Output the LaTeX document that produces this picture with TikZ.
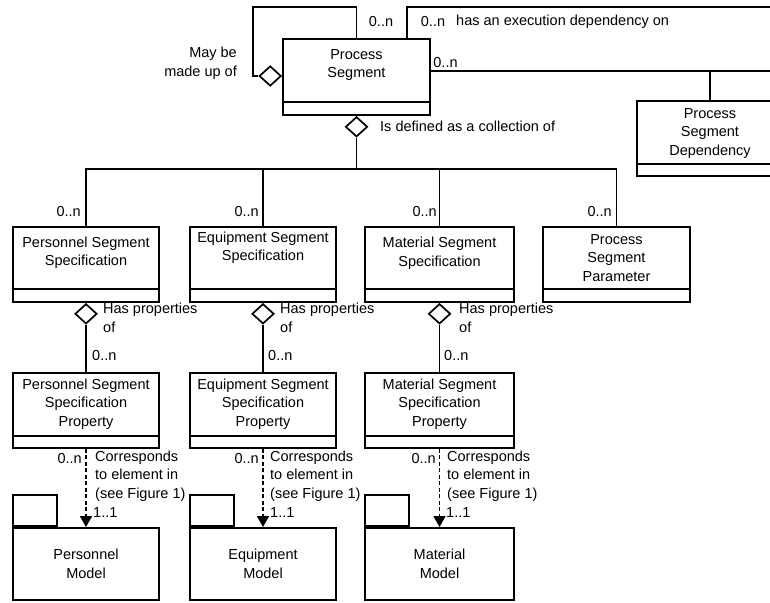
\documentclass[tikz,border=0pt]{standalone}
\usepackage{fontspec}
\setmainfont{Liberation Sans}
\usetikzlibrary{arrows.meta,shapes.geometric}

\begin{document}
\begin{tikzpicture}[x=1pt,y=-1pt,
  every node/.style={font=\fontsize{14.5}{18.5}\selectfont, inner sep=0pt},
  cls/.style={draw, line width=1.9pt, rectangle, align=center},
  txt/.style={align=center},
  ltxt/.style={align=left},
  rtxt/.style={align=right},
  agg/.style={draw, line width=1.7pt, diamond, fill=white, minimum width=22pt, minimum height=20pt, inner sep=0pt},
  link/.style={line width=1.9pt},
  dep/.style={line width=1.7pt, dash pattern=on 4pt off 2.5pt, -{Triangle[width=12pt,length=11pt]}},
]
\clip (0,0) rectangle (770,602);

% ---- Process Segment ----
\node[cls, minimum width=147pt, minimum height=76pt] (ps) at (356.5,77) {};
\draw[link] ([yshift=14pt]ps.south west) -- ([yshift=14pt]ps.south east);
\node[txt] (ps-name) at (356.5,65) {Process\\Segment};

% ---- Process Segment Dependency ----
\node[cls, minimum width=146pt, minimum height=75pt] (dep) at (710,138.5) {};
\draw[link] ([yshift=13pt]dep.south west) -- ([yshift=13pt]dep.south east);
\node[txt] (dep-name) at (710,133.5) {Process\\Segment\\Dependency};

% ---- second row ----
\node[cls, minimum width=146pt, minimum height=75pt] (pss) at (86,264.5) {};
\node[cls, minimum width=146pt, minimum height=75pt] (ess) at (263,264.5) {};
\node[cls, minimum width=149pt, minimum height=75pt] (mss) at (439.5,264.5) {};
\node[cls, minimum width=147pt, minimum height=75pt] (psp) at (616.5,264.5) {};
\foreach \n in {pss,ess,mss,psp}
  \draw[link] ([yshift=14pt]\n.south west) -- ([yshift=14pt]\n.south east);
\node[txt] (pss-name) at (86,252.5) {Personnel Segment\\Specification};
\node[txt] (ess-name) at (263,247.5) {Equipment Segment\\Specification};
\node[txt] (mss-name) at (439.5,253) {Material Segment\\Specification};
\node[txt] (psp-name) at (616.5,258) {Process\\Segment\\Parameter};

% ---- third row ----
\node[cls, minimum width=146pt, minimum height=75pt] (pssp) at (86,410.5) {};
\node[cls, minimum width=146pt, minimum height=75pt] (essp) at (263,410.5) {};
\node[cls, minimum width=149pt, minimum height=75pt] (mssp) at (439.5,410.5) {};
\foreach \n in {pssp,essp,mssp}
  \draw[link] ([yshift=13pt]\n.south west) -- ([yshift=13pt]\n.south east);
\node[txt] (pssp-name) at (86,404) {Personnel Segment\\Specification\\Property};
\node[txt] (essp-name) at (263,404) {Equipment Segment\\Specification\\Property};
\node[txt] (mssp-name) at (439.5,404) {Material Segment\\Specification\\Property};

% ---- model packages ----
\node[cls, minimum width=146pt, minimum height=72pt] (pm) at (86,564) {Personnel\\Model};
\node[cls, minimum width=146pt, minimum height=72pt] (em) at (263,564) {Equipment\\Model};
\node[cls, minimum width=149pt, minimum height=72pt] (mm) at (439.5,564) {Material\\Model};
\foreach \n in {pm,em,mm}
  \node[cls, anchor=south west, minimum width=44pt, minimum height=31pt] (\n-tab) at (\n.north west) {};

% ---- self aggregation ----
\node[agg, anchor=east] (selfagg) at (ps.west |- 0,76) {};
\coordinate (selftop) at (253,7);
\draw[link] (ps.north) |- (selftop) |- (selfagg.west);
\node (self-m) at (381,22) {0..n};
\node[rtxt, anchor=east] (self-l) at (237,63.5) {May be\\made up of};

% ---- execution dependency ----
\coordinate (exectop) at (407,39);
\coordinate (execR) at (775,7);
\draw[link] (exectop) |- (execR);
\node (exec-m) at (433,22) {0..n};
\node[anchor=west] (exec-l) at (456,22) {has an execution dependency on};
\coordinate (psR) at (430,71);
\coordinate (depR) at (775,71);
\draw[link] (psR) -- (depR);
\draw[link] (dep.north) -- (dep.north |- psR);
\node (dep-m) at (445.5,63) {0..n};

% ---- collection ----
\node[agg, anchor=north] (collagg) at (ps.south) {};
\coordinate (bus) at (356.5,169);
\draw[link] (collagg.south) -- (bus);
\draw[link] (pss.north) |- (bus) -| (psp.north);
\draw[link] (ess.north) -- (ess.north |- bus);
\draw[link] (mss.north) -- (mss.north |- bus);
\node[anchor=west] (coll-l) at (380,126) {Is defined as a collection of};
\node[anchor=east] (pss-m) at (81,212) {0..n};
\node[anchor=east] (ess-m) at (259,212) {0..n};
\node[anchor=east] (mss-m) at (437,212) {0..n};
\node[anchor=east] (psp-m) at (612,212) {0..n};

% ---- property aggregations ----
\foreach \a/\b in {pss/pssp,ess/essp,mss/mssp}{
  \node[agg, anchor=north] (\a-agg) at (\a.south) {};
  \draw[link] (\a-agg.south) -- (\b.north);
}
\node[ltxt, anchor=west] (pss-hp) at (103,318) {Has properties\\of};
\node[ltxt, anchor=west] (ess-hp) at (280,318) {Has properties\\of};
\node[ltxt, anchor=west] (mss-hp) at (459,318) {Has properties\\of};
\node[anchor=west] (pssp-m) at (92,356) {0..n};
\node[anchor=west] (essp-m) at (268,356) {0..n};
\node[anchor=west] (mssp-m) at (444,356) {0..n};

% ---- correspondences ----
\draw[dep] (pssp.south) -- (pm.north);
\draw[dep] (essp.south) -- (em.north);
\draw[dep] (mssp.south) -- (mm.north);
\node[anchor=east] (pc-m) at (82,459) {0..n};
\node[anchor=east] (ec-m) at (259,459) {0..n};
\node[anchor=east] (mc-m) at (436,459) {0..n};
\node[ltxt, anchor=west] (pc-l) at (95,476) {Corresponds\\to element in\\(see Figure 1)};
\node[ltxt, anchor=west] (ec-l) at (270,476) {Corresponds\\to element in\\(see Figure 1)};
\node[ltxt, anchor=west] (mc-l) at (447,476) {Corresponds\\to element in\\(see Figure 1)};
\node[anchor=west] (pc-o) at (93,513) {1..1};
\node[anchor=west] (ec-o) at (270,513) {1..1};
\node[anchor=west] (mc-o) at (446,513) {1..1};
\end{tikzpicture}
\end{document}
